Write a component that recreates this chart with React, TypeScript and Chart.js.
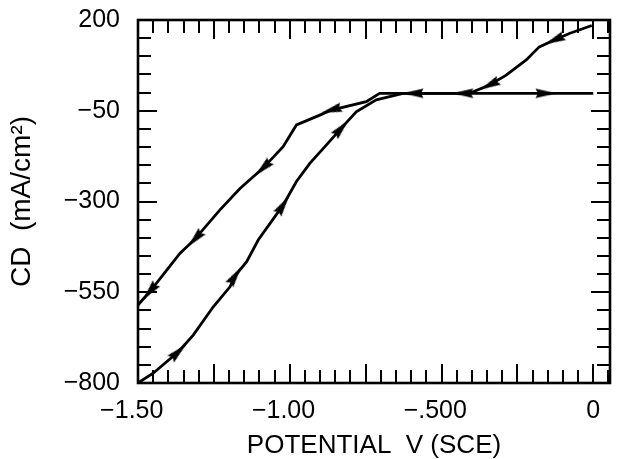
import React, { useEffect, useRef } from 'react';
import { Chart, registerables } from 'chart.js';

Chart.register(...registerables);

// Forward (anodic) scan: potential (V vs SCE) and current density (mA/cm2)
const forwardV = [-1.5, -1.45, -1.367, -1.318, -1.252, -1.197, -1.18, -1.142, -1.104, -1.022, -0.978, -0.934, -0.879, -0.83, -0.781, -0.715, -0.627, -0.55, -0.156, 0];
const forwardCD = [-800, -773, -714, -668, -590, -535, -505, -466, -406, -310, -245, -195, -144, -98, -53, -20, -2, -2, -2, -2];
const forwardArrows = [2, 6, 9, 13, 18];

// Reverse (cathodic) scan
const reverseV = [-0.005, -0.079, -0.128, -0.178, -0.221, -0.287, -0.342, -0.408, -0.43, -0.594, -0.704, -0.748, -0.863, -0.901, -0.978, -1.022, -1.088, -1.164, -1.23, -1.312, -1.362, -1.461, -1.5];
const reverseCD = [185, 163, 145, 126, 90, 48, 21, -2, -2, -2, -2, -25, -48, -62, -89, -149, -208, -264, -323, -403, -443, -548, -585];
const reverseArrows = [2, 6, 8, 9, 12, 16, 19, 21];

// Axes
const xTickValues = [-1.5, -1.0, -0.5, 0];
const xTickLabels = ['\u22121.50', '\u22121.00', '\u2212.500', '0'];
const yTickValues = [200, -50, -300, -550, -800];
const yTickLabels = ['200', '\u221250', '\u2212300', '\u2212550', '\u2212800'];
const xMin = -1.5;
const xMax = 0.055;
const yMin = -800;
const yMax = 200;
const xTitle = 'POTENTIAL  V (SCE)';
const yTitle = 'CD  (mA/cm\u00B2)';

const FONT = '"Liberation Sans", Arial, Helvetica, sans-serif';

function makeArrow(): HTMLCanvasElement {
  const c = document.createElement('canvas');
  c.width = 22;
  c.height = 12;
  const g = c.getContext('2d')!;
  g.fillStyle = '#000';
  g.beginPath();
  g.moveTo(21.5, 6);
  g.lineTo(0.5, 1.2);
  g.lineTo(3, 6);
  g.lineTo(0.5, 10.8);
  g.closePath();
  g.fill();
  return c;
}

function angleFn(vs: number[], cds: number[]) {
  return (c: any) => {
    if (c.type !== 'data') return 0;
    const i = c.dataIndex;
    const xs = c.chart.scales.x;
    const ys = c.chart.scales.y;
    const a = Math.max(0, i - 1);
    const b = Math.min(vs.length - 1, i + 1);
    const dx = xs.getPixelForValue(vs[b]) - xs.getPixelForValue(vs[a]);
    const dy = ys.getPixelForValue(cds[b]) - ys.getPixelForValue(cds[a]);
    return (Math.atan2(dy, dx) * 180) / Math.PI;
  };
}

const frameTicks = {
  id: 'frameTicks',
  afterDatasetsDraw(chart: any) {
    const { ctx, chartArea } = chart;
    const { left, right, top, bottom } = chartArea;
    const xs = chart.scales.x;
    const ys = chart.scales.y;
    ctx.save();
    ctx.strokeStyle = '#000';
    ctx.lineWidth = 2;
    ctx.beginPath();
    for (let k = 0; k <= 40; k++) {
      const v = xMin + k * 0.05;
      if (v > xMax + 1e-9) break;
      const px = Math.round(xs.getPixelForValue(v));
      const len = k % 5 === 0 ? 19 : 13;
      ctx.moveTo(px, bottom);
      ctx.lineTo(px, bottom - len);
      ctx.moveTo(px, top);
      ctx.lineTo(px, top + len);
    }
    for (let k = 0; k <= 20; k++) {
      const v = yMax - k * 50;
      const py = Math.round(ys.getPixelForValue(v));
      const len = k % 5 === 0 ? 19 : 13;
      ctx.moveTo(left, py);
      ctx.lineTo(left + len, py);
      ctx.moveTo(right, py);
      ctx.lineTo(right - len, py);
    }
    ctx.stroke();
    ctx.lineWidth = 2.6;
    ctx.strokeRect(left, top, right - left, bottom - top);
    ctx.restore();
  },
};

export default function App() {
  const ref = useRef<HTMLCanvasElement>(null);
  useEffect(() => {
    document.body.style.margin = '0';
    const arrow = makeArrow();
    const fwd = forwardV.map((v, i) => ({ x: v, y: forwardCD[i] }));
    const rev = reverseV.map((v, i) => ({ x: v, y: reverseCD[i] }));
    const chart = new Chart(ref.current!, {
      type: 'line',
      data: {
        datasets: [
          {
            data: fwd,
            borderColor: '#000',
            borderWidth: 2.8,
            tension: 0,
            fill: false,
            pointStyle: arrow as any,
            pointRadius: (c: any) => (forwardArrows.includes(c.dataIndex) ? 5 : 0),
            pointHoverRadius: (c: any) => (forwardArrows.includes(c.dataIndex) ? 5 : 0),
            pointRotation: angleFn(forwardV, forwardCD),
          } as any,
          {
            data: rev,
            borderColor: '#000',
            borderWidth: 2.8,
            tension: 0,
            fill: false,
            pointStyle: arrow as any,
            pointRadius: (c: any) => (reverseArrows.includes(c.dataIndex) ? 5 : 0),
            pointHoverRadius: (c: any) => (reverseArrows.includes(c.dataIndex) ? 5 : 0),
            pointRotation: angleFn(reverseV, reverseCD),
          } as any,
        ],
      },
      options: {
        animation: false,
        responsive: false,
        events: [],
        layout: { padding: { left: 0, right: 15, top: 20, bottom: 0 } },
        plugins: { legend: { display: false }, tooltip: { enabled: false } },
        scales: {
          x: {
            type: 'linear',
            min: xMin,
            max: xMax,
            grid: { display: false, drawTicks: false },
            border: { display: false },
            afterBuildTicks: (s: any) => {
              s.ticks = xTickValues.map((v) => ({ value: v }));
            },
            afterFit: (s: any) => {
              s.height = 76;
              s.paddingLeft = 0;
              s.paddingRight = 0;
            },
            ticks: {
              autoSkip: false,
              maxRotation: 0,
              minRotation: 0,
              padding: 16,
              color: '#000',
              font: { family: FONT, size: 25, lineHeight: 1 },
              callback: (v: any) => {
                const i = xTickValues.findIndex((t) => Math.abs(t - v) < 1e-6);
                if (i < 0) return '';
                const l = xTickLabels[i];
                return l.startsWith('\u2212') ? l + '\u2002' : l;
              },
            },
            title: {
              display: true,
              text: xTitle,
              color: '#000',
              font: { family: FONT, size: 26, lineHeight: 1 },
              padding: { top: 0, bottom: 0 },
            },
          },
          y: {
            type: 'linear',
            min: yMin,
            max: yMax,
            grid: { display: false, drawTicks: false },
            border: { display: false },
            afterBuildTicks: (s: any) => {
              s.ticks = yTickValues.map((v) => ({ value: v }));
            },
            afterFit: (s: any) => {
              s.width = 138;
              s.paddingTop = 0;
              s.paddingBottom = 0;
            },
            ticks: {
              autoSkip: false,
              padding: 18,
              color: '#000',
              font: { family: FONT, size: 25, lineHeight: 1 },
              callback: (v: any) => {
                const i = yTickValues.findIndex((t) => Math.abs(t - v) < 1e-6);
                return i < 0 ? '' : yTickLabels[i];
              },
            },
            title: {
              display: true,
              text: yTitle,
              color: '#000',
              font: { family: FONT, size: 28, lineHeight: 1 },
              padding: { top: 8, bottom: 0 },
            },
          },
        },
      } as any,
      plugins: [frameTicks],
    });
    return () => chart.destroy();
  }, []);
  return (
    <div style={{ width: 625, height: 459 }}>
      <canvas ref={ref} width={625} height={459} style={{ display: 'block' }} />
    </div>
  );
}
